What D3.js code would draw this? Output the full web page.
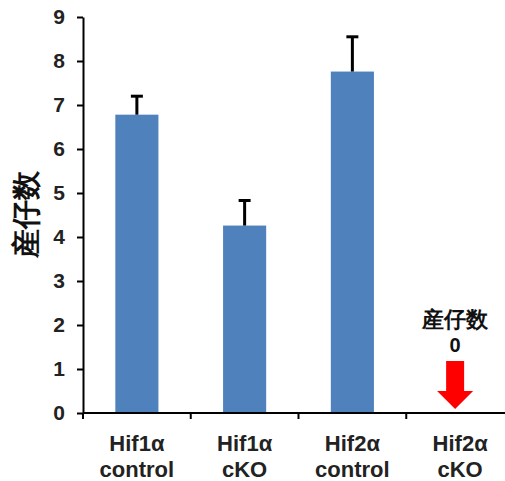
<!DOCTYPE html>
<html>
<head>
<meta charset="utf-8">
<script src="https://cdn.jsdelivr.net/npm/d3@7"></script>
<style>
  body { margin: 0; background: #fff; }
  text { font-family: "Liberation Sans", Arial, sans-serif; font-weight: bold; }
</style>
</head>
<body>
<div id="viz"></div>
<script>
// data
let groups = ["Hif1α control", "Hif1α cKO", "Hif2α control", "Hif2α cKO"];
let labelLine1 = ["Hif1α", "Hif1α", "Hif2α", "Hif2α"];
let labelLine2 = ["control", "cKO", "control", "cKO"];
let means = [6.78, 4.26, 7.76, 0];
let errors = [0.42, 0.57, 0.79, 0];
let yTicks = [0, 1, 2, 3, 4, 5, 6, 7, 8, 9];

let w = 505;
let h = 481;

let viz = d3.select("#viz")
  .append("svg")
    .attr("width", w)
    .attr("height", h)
;

let xScale = d3.scaleBand().domain(groups).range([83, 514]).paddingInner(0.6).paddingOuter(0.3);
let yScale = d3.scaleLinear().domain([0, 9]).range([413, 17]);

// bars
viz.selectAll(".bar").data(groups.slice(0, 3)).enter()
  .append("rect")
    .attr("class", "bar")
    .attr("x", function(d){ return xScale(d); })
    .attr("width", xScale.bandwidth())
    .attr("y", function(d, i){ return yScale(means[i]); })
    .attr("height", function(d, i){ return yScale(0) - yScale(means[i]); })
    .attr("fill", "#4F81BD")
;

// error bars (upper only)
let errG = viz.selectAll(".err").data(groups.slice(0, 3)).enter()
  .append("g")
    .attr("class", "err")
    .attr("transform", function(d){ return "translate(" + (xScale(d) + xScale.bandwidth() / 2) + ",0)"; })
;
errG.append("line")
  .attr("x1", 0).attr("x2", 0)
  .attr("y1", function(d, i){ return yScale(means[i]); })
  .attr("y2", function(d, i){ return yScale(means[i] + errors[i]); })
  .attr("stroke", "black").attr("stroke-width", 3);
errG.append("line")
  .attr("x1", -6).attr("x2", 6)
  .attr("y1", function(d, i){ return yScale(means[i] + errors[i]); })
  .attr("y2", function(d, i){ return yScale(means[i] + errors[i]); })
  .attr("stroke", "black").attr("stroke-width", 3);

// y axis
let yAxis = d3.axisLeft(yScale).tickValues(yTicks).tickSize(6).tickPadding(12).tickSizeOuter(0);
let yG = viz.append("g").attr("transform", "translate(83,0)").call(yAxis);
yG.select(".domain").attr("stroke", "black").attr("stroke-width", 2);
yG.selectAll(".tick line").attr("stroke", "black").attr("stroke-width", 2);
yG.selectAll(".tick text")
  .attr("font-size", 21).attr("font-family", "Liberation Sans, Arial, sans-serif")
  .attr("font-weight", "bold").attr("fill", "#222");

// x axis (ticks between categories)
let xEdges = groups.map(function(d){ return xScale(d) - xScale.step() * xScale.paddingInner() / 2; });
viz.append("line")
  .attr("x1", 83).attr("x2", 514)
  .attr("y1", yScale(0)).attr("y2", yScale(0))
  .attr("stroke", "black").attr("stroke-width", 2);
viz.selectAll(".xtick").data(xEdges).enter()
  .append("line")
    .attr("class", "xtick")
    .attr("x1", function(d){ return d; }).attr("x2", function(d){ return d; })
    .attr("y1", yScale(0)).attr("y2", yScale(0) + 6)
    .attr("stroke", "black").attr("stroke-width", 2);

// x labels
let xl = viz.selectAll(".xlab").data(groups).enter()
  .append("text")
    .attr("class", "xlab")
    .attr("text-anchor", "middle")
    .attr("font-size", 22)
    .attr("fill", "#222")
;
xl.append("tspan").attr("x", function(d){ return xScale(d) + xScale.bandwidth() / 2; })
  .attr("y", 451).text(function(d, i){ return labelLine1[i]; });
xl.append("tspan").attr("x", function(d){ return xScale(d) + xScale.bandwidth() / 2; })
  .attr("y", 477).text(function(d, i){ return labelLine2[i]; });

// y title
viz.append("text")
  .attr("transform", "translate(36,214) rotate(-90)")
  .attr("text-anchor", "middle")
  .attr("font-size", 29)
  .attr("font-family", "Noto Sans CJK JP, sans-serif")
  .attr("fill", "#111")
  .text("産仔数");

// zero annotation + red arrow for the last group
let cx = xScale(groups[3]) + xScale.bandwidth() / 2 - 5;
viz.append("text")
  .attr("x", cx).attr("y", 327)
  .attr("text-anchor", "middle")
  .attr("font-size", 22)
  .attr("font-family", "Noto Sans CJK JP, sans-serif")
  .attr("fill", "#111")
  .text("産仔数");
viz.append("text")
  .attr("x", cx).attr("y", 352)
  .attr("text-anchor", "middle")
  .attr("font-size", 20)
  .attr("fill", "#111")
  .text(means[3]);

let arrowTop = 361, headTop = 391, tip = yScale(0) - 4;
viz.append("path")
  .attr("d", "M" + (cx - 9) + "," + arrowTop + " L" + (cx + 9) + "," + arrowTop +
    " L" + (cx + 9) + "," + headTop + " L" + (cx + 18) + "," + headTop +
    " L" + cx + "," + tip + " L" + (cx - 18) + "," + headTop +
    " L" + (cx - 9) + "," + headTop + " Z")
  .attr("fill", "#FF0000");
</script>
</body>
</html>
